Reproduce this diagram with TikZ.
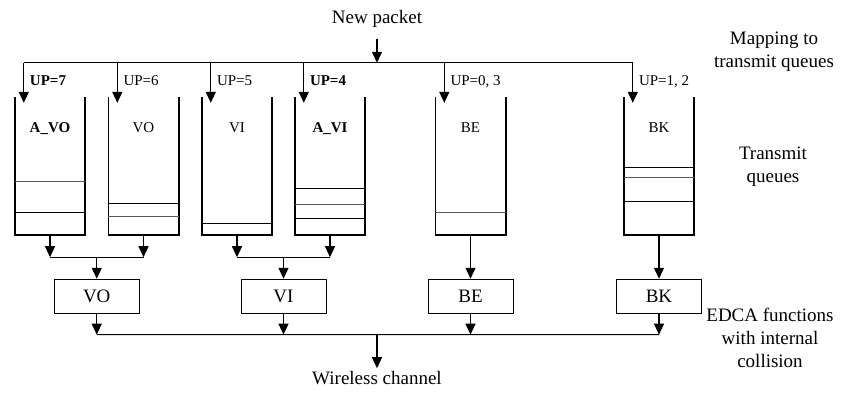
\documentclass[tikz,border=0pt]{standalone}
\usepackage{fontspec}
\setmainfont{Liberation Serif}
\usetikzlibrary{positioning,arrows.meta,calc}

\begin{document}
\begin{tikzpicture}[x=1pt, y=1pt,
  queue/.style={minimum width=70pt, minimum height=138pt, inner sep=0pt},
  wall/.style={line width=1.6pt},
  slot/.style={line width=1.2pt},
  slotlt/.style={line width=0.8pt, black!65},
  edca/.style={draw, line width=0.9pt, minimum width=85pt, minimum height=34pt,
               inner sep=0pt, font=\fontsize{19}{23}\selectfont},
  bus/.style={line width=0.9pt},
  flow/.style={-{Triangle[length=11pt,width=10pt]}, line width=1.3pt},
  qname/.style={font=\fontsize{15}{18}\selectfont, anchor=base},
  uplbl/.style={font=\fontsize{15}{18}\selectfont, anchor=base west, inner sep=0pt},
  note/.style={font=\fontsize{19}{23}\selectfont, align=center},
]
\useasboundingbox (0,0) rectangle (844,392);

% ---- six transmit queues, open at the top ----
\foreach [count=\i] \qx/\qn in {50/{\textbf{A\_VO}}, 143.5/VO, 237/VI,
                                330/{\textbf{A\_VI}}, 470.5/BE, 659/BK} {
  \node[queue] (q\i) at (\qx, 226) {};
  \draw[wall] (q\i.north west) -- (q\i.south west) -- (q\i.south east) -- (q\i.north east);
  \node[qname] (n\i) at ($(q\i.north)+(0,-36)$) {\qn};
}

% ---- queued frames ----
\foreach \i/\h/\s in {1/54/slotlt, 1/23/slot, 2/32/slot, 2/19/slotlt, 3/12/slot,
                      4/47/slot, 4/31/slotlt, 4/17/slot, 5/23/slotlt,
                      6/68/slot, 6/58/slotlt, 6/34/slot}
  \draw[\s] ($(q\i.south west)+(0,\h)$) -- ($(q\i.south east)+(0,\h)$);

% ---- new packet, mapped to queues by UP ----
\node[note] (pkt) at (377, 373.5) {New packet};
\foreach \i in {1,...,6}
  \coordinate (d\i) at ($(q\i.north west)+(9,34)$);
\draw[bus] (d1) -- (d6);
\draw[flow] ([yshift=-8pt]pkt.south) -- (pkt.south |- d1);
\foreach [count=\i] \up in {\textbf{UP=7}, UP=6, UP=5, \textbf{UP=4}, {UP=0, 3}, {UP=1, 2}} {
  \draw[flow] (d\i) -- ++(0,-40);
  \node[uplbl] (u\i) at ($(d\i)+(6,-23)$) {\up};
}

% ---- queues to EDCA functions ----
\node[edca] (vo) at ($(q1.south)!0.5!(q2.south)+(0,-61)$) {VO};
\node[edca] (vi) at ($(q3.south)!0.5!(q4.south)+(0,-61)$) {VI};
\node[edca] (be) at ($(q5.south)+(0,-61)$) {BE};
\node[edca] (bk) at ($(q6.south)+(0,-61)$) {BK};
\foreach \i in {1,...,4} {
  \coordinate (j\i) at ($(q\i.south)+(0,-22)$);
  \draw[flow] (q\i.south) -- (j\i);
}
\draw[bus] (j1) -- (j2);
\draw[bus] (j3) -- (j4);
\draw[flow] ($(j1)!0.5!(j2)$) -- (vo.north);
\draw[flow] ($(j3)!0.5!(j4)$) -- (vi.north);
\draw[flow] (q5.south) -- (be.north);
\draw[flow] (q6.south) -- (bk.north);

% ---- internal collision, out to the channel ----
\foreach \b in {vo,vi,be,bk} {
  \coordinate (c\b) at ($(\b.south)+(0,-21)$);
  \draw[flow] (\b.south) -- (c\b);
}
\draw[bus] (cvo) -- (cbk);
\node[note] (wl) at (377, 13.5) {Wireless channel};
\draw[flow] (wl.north |- cvo) -- (wl.north);

% ---- row captions ----
\node[note] (mapn) at (774, 340.5) {Mapping to\\transmit queues};
\node[note] (tqn)  at (773, 225.5) {Transmit\\queues};
\node[note] (edn)  at (770, 54)    {EDCA functions\\with internal\\collision};

\end{tikzpicture}
\end{document}
